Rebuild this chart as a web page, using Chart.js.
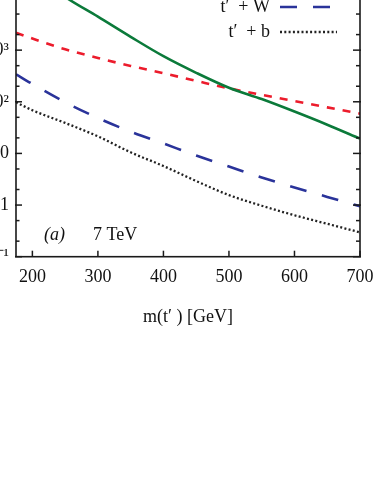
<!DOCTYPE html>
<html><head><meta charset="utf-8">
<script src="https://cdn.jsdelivr.net/npm/chart.js@4/dist/chart.umd.min.js"></script>
<style>
html,body{margin:0;padding:0;background:#fff;overflow:hidden;width:382px;height:491px;}
#wrap{position:absolute;left:-24px;top:-10px;width:406px;height:340px;}
</style></head><body>
<div id="wrap"><canvas id="c"></canvas></div>
<script>
// ---- data ----
const MASS = [175, 200, 250, 300, 350, 400, 450, 500, 550, 600, 650, 700];
const TPAIR = [52000, 31600, 10700, 4440, 1808, 764, 364, 187, 113, 64.7, 36, 19.3];
const TJET  = [2175, 1680, 1040, 705, 494, 357, 254, 182, 136, 103, 78, 59];
const TW    = [341, 221, 98, 48.5, 26.4, 15.6, 9.1, 5.57, 3.42, 2.19, 1.44, 0.95];
const TB    = [98, 68.5, 39, 21.4, 10.5, 5.7, 2.92, 1.56, 0.97, 0.635, 0.434, 0.296];
const SERIES_LABELS = ['t′  t̄′', 't′  + j', 't′  + W', 't′  + b'];
const X_TICKS = [200, 300, 400, 500, 600, 700];
const Y_TICKS = [0.1, 1, 10, 100, 1000];
const Y_LABELS = ['10⁻¹', '1', '10', '10²', '10³'];
const Y_MINOR = [0.2, 0.5, 2, 5, 20, 50, 200, 500, 2000, 5000];
const X_TITLE = 'm(t′ ) [GeV]';
const PANEL = '(a)';
const ENERGY = '7 TeV';

const FONT = "'Liberation Serif', 'Times New Roman', serif";
const pts = arr => MASS.map((m, i) => ({x: m, y: arr[i]}));

const extras = {
  id: 'extras',
  afterDraw(chart) {
    const ctx = chart.ctx;
    const {left, right, top, bottom} = chart.chartArea;
    const xs = chart.scales.x, ys = chart.scales.y;
    const line = (x1, y1, x2, y2) => { ctx.beginPath(); ctx.moveTo(x1, y1); ctx.lineTo(x2, y2); ctx.stroke(); };
    ctx.save();
    ctx.strokeStyle = '#1a1a1a';
    ctx.lineWidth = 1.5;
    ctx.setLineDash([]);
    Y_TICKS.forEach(v => { const y = ys.getPixelForValue(v); line(left - 1, y, left + 6, y); line(right - 7, y, right + 1, y); });
    Y_MINOR.forEach(v => { const y = ys.getPixelForValue(v); line(left, y, left + 3.5, y); line(right - 4, y, right, y); });
    X_TICKS.forEach(v => { const x = xs.getPixelForValue(v); line(x, bottom, x, bottom - 6); });
    ctx.lineWidth = 1.6;
    ctx.strokeRect(left, top, right - left, bottom - top);

    // legend (visible rows)
    ctx.font = '18px ' + FONT;
    ctx.fillStyle = '#111';
    ctx.textAlign = 'right';
    ctx.textBaseline = 'middle';
    chart.data.datasets.forEach((ds, i) => {
      const y = top + 8.5 + 25 * (i - 2);
      if (y < 8) return;
      ctx.fillText(ds.label, left + 254, y);
      ctx.strokeStyle = ds.borderColor;
      ctx.lineWidth = ds.borderWidth;
      ctx.setLineDash(ds.borderDash || []);
      ctx.lineCap = 'butt';
      line(left + 264, y, left + 321, y);
    });
    ctx.setLineDash([]);

    // panel annotation
    ctx.textAlign = 'left';
    ctx.fillStyle = '#111';
    ctx.font = 'italic 18px ' + FONT;
    ctx.fillText(PANEL, left + 28, bottom - 21);
    ctx.font = '18px ' + FONT;
    ctx.fillText(ENERGY, left + 77, bottom - 21);
    ctx.restore();
  }
};

new Chart(document.getElementById('c'), {
  type: 'line',
  data: {
    datasets: [
      {label: SERIES_LABELS[0], data: pts(TPAIR), borderColor: '#0b7a3a', borderWidth: 2.6, borderDash: []},
      {label: SERIES_LABELS[1], data: pts(TJET), borderColor: '#ec1c2c', borderWidth: 2.6, borderDash: [8, 8]},
      {label: SERIES_LABELS[2], data: pts(TW), borderColor: '#2a339a', borderWidth: 2.6, borderDash: [17, 16]},
      {label: SERIES_LABELS[3], data: pts(TB), borderColor: '#222222', borderWidth: 2.3, borderDash: [2, 2.3]}
    ]
  },
  options: {
    responsive: true,
    maintainAspectRatio: false,
    animation: false,
    layout: {padding: {left: 0, right: 22, top: 8.5, bottom: 2.3}},
    elements: {point: {radius: 0}, line: {cubicInterpolationMode: 'monotone', borderCapStyle: 'butt', fill: false}},
    plugins: {legend: {display: false}, tooltip: {enabled: false}},
    scales: {
      x: {
        type: 'linear', min: 175, max: 700,
        grid: {display: false, drawTicks: false}, border: {display: false},
        ticks: {font: {family: FONT, size: 18}, color: '#111', padding: 9.5, autoSkip: false, maxRotation: 0},
        afterBuildTicks: s => { s.ticks = X_TICKS.map(v => ({value: v})); },
        title: {display: true, text: X_TITLE, font: {family: FONT, size: 18}, color: '#111', padding: {top: 0, bottom: 0}},
        afterFit: s => { s.height = 71; s.paddingLeft = 0; s.paddingRight = 0; }
      },
      y: {
        type: 'logarithmic', min: 0.1, max: 10000,
        grid: {display: false, drawTicks: false}, border: {display: false},
        ticks: {font: {family: FONT, size: 18}, color: '#111', padding: 7, autoSkip: false,
                callback: (v, i) => Y_LABELS[i]},
        afterBuildTicks: s => { s.ticks = Y_TICKS.map(v => ({value: v})); },
        afterFit: s => { s.width = 40; s.paddingTop = 0; s.paddingBottom = 0; }
      }
    }
  },
  plugins: [extras]
});
</script>
</body></html>
